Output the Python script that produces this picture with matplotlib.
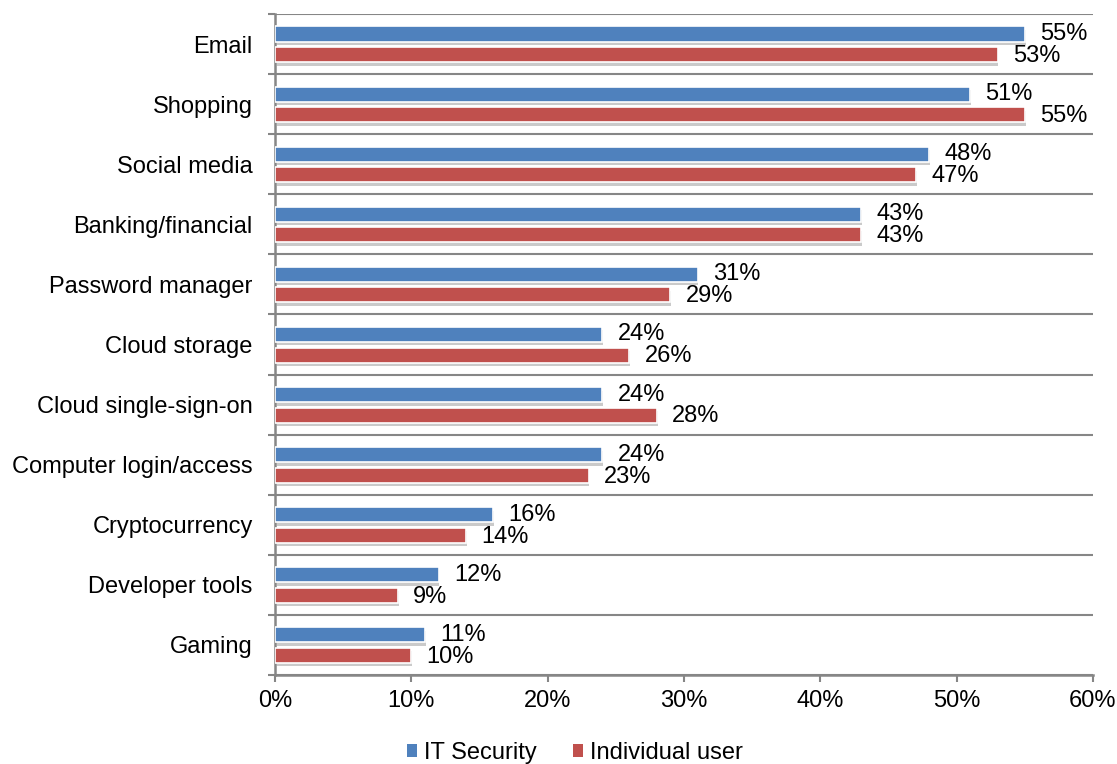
import matplotlib
matplotlib.use("Agg")
import matplotlib.pyplot as plt
import matplotlib.patheffects as pe
from matplotlib.patches import Patch
from matplotlib.ticker import FixedLocator, PercentFormatter
import numpy as np

plt.rcParams['font.family'] = ['Liberation Sans', 'DejaVu Sans']

categories = ["Email", "Shopping", "Social media", "Banking/financial",
              "Password manager", "Cloud storage", "Cloud single-sign-on",
              "Computer login/access", "Cryptocurrency", "Developer tools", "Gaming"]
it_security = [55, 51, 48, 43, 31, 24, 24, 24, 16, 12, 11]
individual_user = [53, 55, 47, 43, 29, 26, 28, 23, 14, 9, 10]
series_names = ["IT Security", "Individual user"]
x_ticks = [0, 10, 20, 30, 40, 50, 60]

blue = "#4F81BD"
red = "#C0504D"
axis_gray = "#868686"
fs = 17

fig = plt.figure(figsize=(11.17, 7.64), dpi=100)
ax = fig.add_axes([275/1117, 1-675/764, (1093-275)/1117, (675-14)/764])

y = np.arange(len(categories))
h = 0.25
shadow = [pe.SimplePatchShadow(offset=(0.6, -2.5), shadow_rgbFace="#a0a0a0", alpha=0.55), pe.Normal()]
b1 = ax.barh(y - 0.167, it_security, height=h, color=blue, edgecolor="white", linewidth=1.2, zorder=3)
b2 = ax.barh(y + 0.175, individual_user, height=h, color=red, edgecolor="white", linewidth=1.2, zorder=3)
for bars in (b1, b2):
    for p in bars:
        p.set_path_effects(shadow)

for yy, v in zip(y - 0.167, it_security):
    ax.annotate(f"{v}%", xy=(v, yy), xytext=(11, 0), textcoords="offset points",
                va="center", ha="left", fontsize=fs, color="black")
for yy, v in zip(y + 0.175, individual_user):
    ax.annotate(f"{v}%", xy=(v, yy), xytext=(11, -1), textcoords="offset points",
                va="center", ha="left", fontsize=fs, color="black")

ax.set_xlim(0, 60)
ax.set_ylim(len(categories) - 0.5, -0.5)
ax.set_xticks(x_ticks)
ax.xaxis.set_major_formatter(PercentFormatter(decimals=0))
ax.set_yticks(y)
ax.set_yticklabels(categories)
ax.yaxis.set_minor_locator(FixedLocator(np.arange(-0.5, len(categories) + 0.5, 1)))
ax.tick_params(axis="y", which="major", length=0, pad=16, labelsize=fs)
ax.tick_params(axis="y", which="minor", length=5, width=1.5, color=axis_gray)
ax.tick_params(axis="x", which="major", length=5, width=1.5, color=axis_gray, pad=6, labelsize=fs)
ax.grid(axis="y", which="minor", color=axis_gray, linewidth=1.5, zorder=0)
ax.set_axisbelow(True)
for s in ("top", "right"):
    ax.spines[s].set_visible(False)
for s in ("left", "bottom"):
    ax.spines[s].set_color(axis_gray)
    ax.spines[s].set_linewidth(1.8)

handles = [Patch(facecolor=blue), Patch(facecolor=red)]
fig.legend(handles, series_names, loc="center", bbox_to_anchor=(575/1117, 1-753/764),
           ncol=2, frameon=False, fontsize=fs, handlelength=0.45, handleheight=0.45,
           handletextpad=0.3, columnspacing=1.5, borderaxespad=0)

fig.savefig("out.png", dpi=100)
